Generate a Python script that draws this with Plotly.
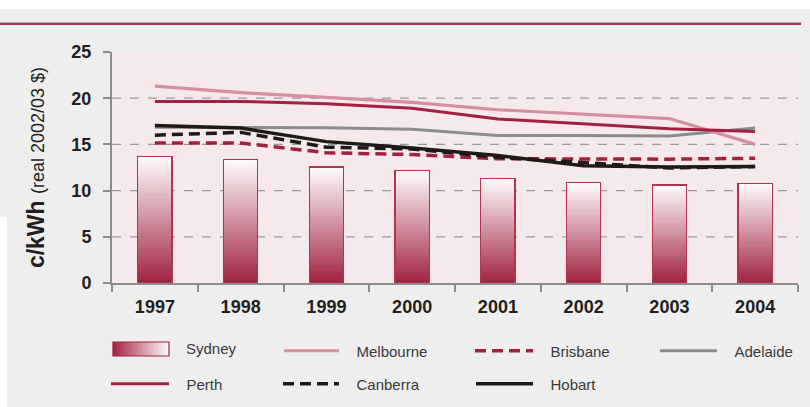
import plotly.graph_objects as go

# Residential electricity prices by capital city, c/kWh (real 2002/03 $)
years = ["1997", "1998", "1999", "2000", "2001", "2002", "2003", "2004"]
sydney = [13.7, 13.4, 12.55, 12.2, 11.3, 10.9, 10.6, 10.8]
melbourne = [21.3, 20.6, 20.1, 19.55, 18.75, 18.3, 17.8, 15.0]
brisbane = [15.15, 15.15, 14.1, 13.9, 13.45, 13.4, 13.4, 13.5]
adelaide = [16.85, 16.85, 16.8, 16.65, 15.97, 15.97, 15.9, 16.77]
perth = [19.65, 19.65, 19.4, 18.9, 17.75, 17.2, 16.7, 16.4]
canberra = [16.0, 16.3, 14.7, 14.5, 13.6, 13.0, 12.45, 12.6]
hobart = [17.05, 16.77, 15.3, 14.6, 13.8, 12.7, 12.55, 12.6]
y_ticks = [0, 5, 10, 15, 20, 25]

W, H = 810, 407
ML, MR, MT, MB = 112, 12, 52, 124
PW, PH = W - ML - MR, H - MT - MB

FONT = "Liberation Sans, Arial, sans-serif"
DARK = (160, 34, 63)
WHITE = (255, 253, 254)


def px(x):
    return (x - ML) / PW


def py(y):
    return (H - MB - y) / PH


def mix(t):
    c = [round(d + (w - d) * t) for d, w in zip(DARK, WHITE)]
    return "rgb({},{},{})".format(*c)


fig = go.Figure()

# Sydney bars: stacked slices shading from dark red at the base to white at the top
N = 40
for k in range(N):
    fig.add_trace(go.Bar(
        x=years, y=[v / N for v in sydney],
        marker=dict(color=mix((k + 0.5) / N), line=dict(width=0)),
        showlegend=False, hoverinfo="skip",
    ))
# outline of each Sydney bar
fig.add_trace(go.Bar(
    x=years, y=sydney, xaxis="x2",
    marker=dict(color="rgba(0,0,0,0)", line=dict(color="#b3344f", width=1.2)),
    showlegend=False, hoverinfo="skip",
))

lines = [
    ("Adelaide", adelaide, "#8c8c8c", 3, "solid", "legend4"),
    ("Melbourne", melbourne, "#d4909f", 3.2, "solid", "legend"),
    ("Perth", perth, "#a3213f", 3, "solid", "legend5"),
    ("Brisbane", brisbane, "#a3213f", 3.5, "11px,6px", "legend3"),
    ("Canberra", canberra, "#1e1a16", 3.5, "11px,6px", "legend2"),
    ("Hobart", hobart, "#1e1a16", 3.5, "solid", "legend6"),
]
for name, vals, col, w, dash, lg in lines:
    fig.add_trace(go.Scatter(
        x=years, y=vals, mode="lines", name="\u00a0\u00a0\u00a0" + name,
        line=dict(color=col, width=w, dash=dash),
        legend=lg, hoverinfo="skip",
    ))

# legend placement: (legend id, line start px, row centre px, line length)
legend_pos = {
    "legend": (284, 351, 55),
    "legend2": (283, 384, 56),
    "legend3": (475, 351, 58),
    "legend4": (660, 351, 57),
    "legend5": (111, 384, 58),
    "legend6": (476, 384, 57),
}
legend_layout = {}
for lg, (x0, yc, w) in legend_pos.items():
    legend_layout[lg] = dict(
        x=px(x0 - 5), y=py(yc), xanchor="left", yanchor="middle",
        bgcolor="rgba(0,0,0,0)", itemwidth=w, borderwidth=0,
        font=dict(family=FONT, size=15, color="#3a3a3a"),
        itemclick=False, itemdoubleclick=False,
    )

shapes = [
    # white strip along the top
    dict(type="rect", xref="paper", yref="paper", x0=px(0), x1=px(W), y0=py(0), y1=py(9),
         fillcolor="#ffffff", line=dict(width=0), layer="above"),
    # white strip at the lower left
    dict(type="rect", xref="paper", yref="paper", x0=px(0), x1=px(7), y0=py(217), y1=py(H),
         fillcolor="#ffffff", line=dict(width=0), layer="above"),
    # header rule
    dict(type="line", xref="paper", yref="paper", x0=px(0), x1=px(801), y0=py(22.5), y1=py(22.5),
         line=dict(color="#a9a9a9", width=1)),
    dict(type="line", xref="paper", yref="paper", x0=px(0), x1=px(801), y0=py(24), y1=py(24),
         line=dict(color="#b52f4e", width=2)),
]

# dashed grid at the inner ticks
for v in y_ticks[1:-1]:
    shapes.append(dict(type="line", xref="paper", yref="y", x0=0, x1=1, y0=v, y1=v,
                       line=dict(color="#9a9a9a", width=1.2, dash="9px,9px"), layer="below"))

# Sydney legend swatch: horizontal shading, dark on the left
sx0, sx1, sy0, sy1 = 113, 169, 342, 356
steps = 28
for i in range(steps):
    a = sx0 + (sx1 - sx0) * i / steps
    b = sx0 + (sx1 - sx0) * (i + 1) / steps
    shapes.append(dict(type="rect", xref="paper", yref="paper", x0=px(a), x1=px(b + 0.3),
                       y0=py(sy1), y1=py(sy0), fillcolor=mix((i + 0.5) / steps),
                       line=dict(width=0)))
shapes.append(dict(type="rect", xref="paper", yref="paper", x0=px(sx0), x1=px(sx1),
                   y0=py(sy1), y1=py(sy0), line=dict(color="#a3213f", width=1.2)))

annotations = [
    dict(text="Sydney", xref="paper", yref="paper", x=px(184), y=py(349),
         xanchor="left", yanchor="middle", showarrow=False,
         font=dict(family=FONT, size=15, color="#3a3a3a")),
]

fig.update_layout(
    width=W, height=H,
    margin=dict(l=ML, r=MR, t=MT, b=MB, autoexpand=False),
    paper_bgcolor="#eeeeee", plot_bgcolor="#f5e9ec",
    barmode="stack", bargap=0.6,
    font=dict(family=FONT, color="#231f20"),
    xaxis=dict(
        type="category", categoryorder="array", categoryarray=years,
        tickson="boundaries", ticks="outside", ticklen=7, tickwidth=2, tickcolor="#8c8c8c",
        showline=True, linecolor="#8c8c8c", linewidth=2, showgrid=False,
        tickfont=dict(family=FONT, size=18, color="#231f20", weight="bold"),
        ticklabelstandoff=6,
        fixedrange=True,
    ),
    xaxis2=dict(type="category", categoryorder="array", categoryarray=years,
                overlaying="x", matches="x", visible=False),
    yaxis=dict(
        range=[0, 25], tickvals=y_ticks, ticks="outside", ticklen=7, tickwidth=1.5,
        tickcolor="#8c8c8c", showline=True, linecolor="#8c8c8c", linewidth=2,
        showgrid=False, zeroline=False,
        tickfont=dict(family=FONT, size=18, color="#231f20", weight="bold"),
        ticklabelstandoff=8,
        title=dict(
            text="<b>c/kWh</b> <span style='font-size:18px'>(real 2002/03 $)</span>",
            font=dict(family=FONT, size=23, color="#231f20"), standoff=20,
        ),
        fixedrange=True,
    ),
    shapes=shapes, annotations=annotations,
    showlegend=True,
    **legend_layout,
)

fig.write_html("out.html")
